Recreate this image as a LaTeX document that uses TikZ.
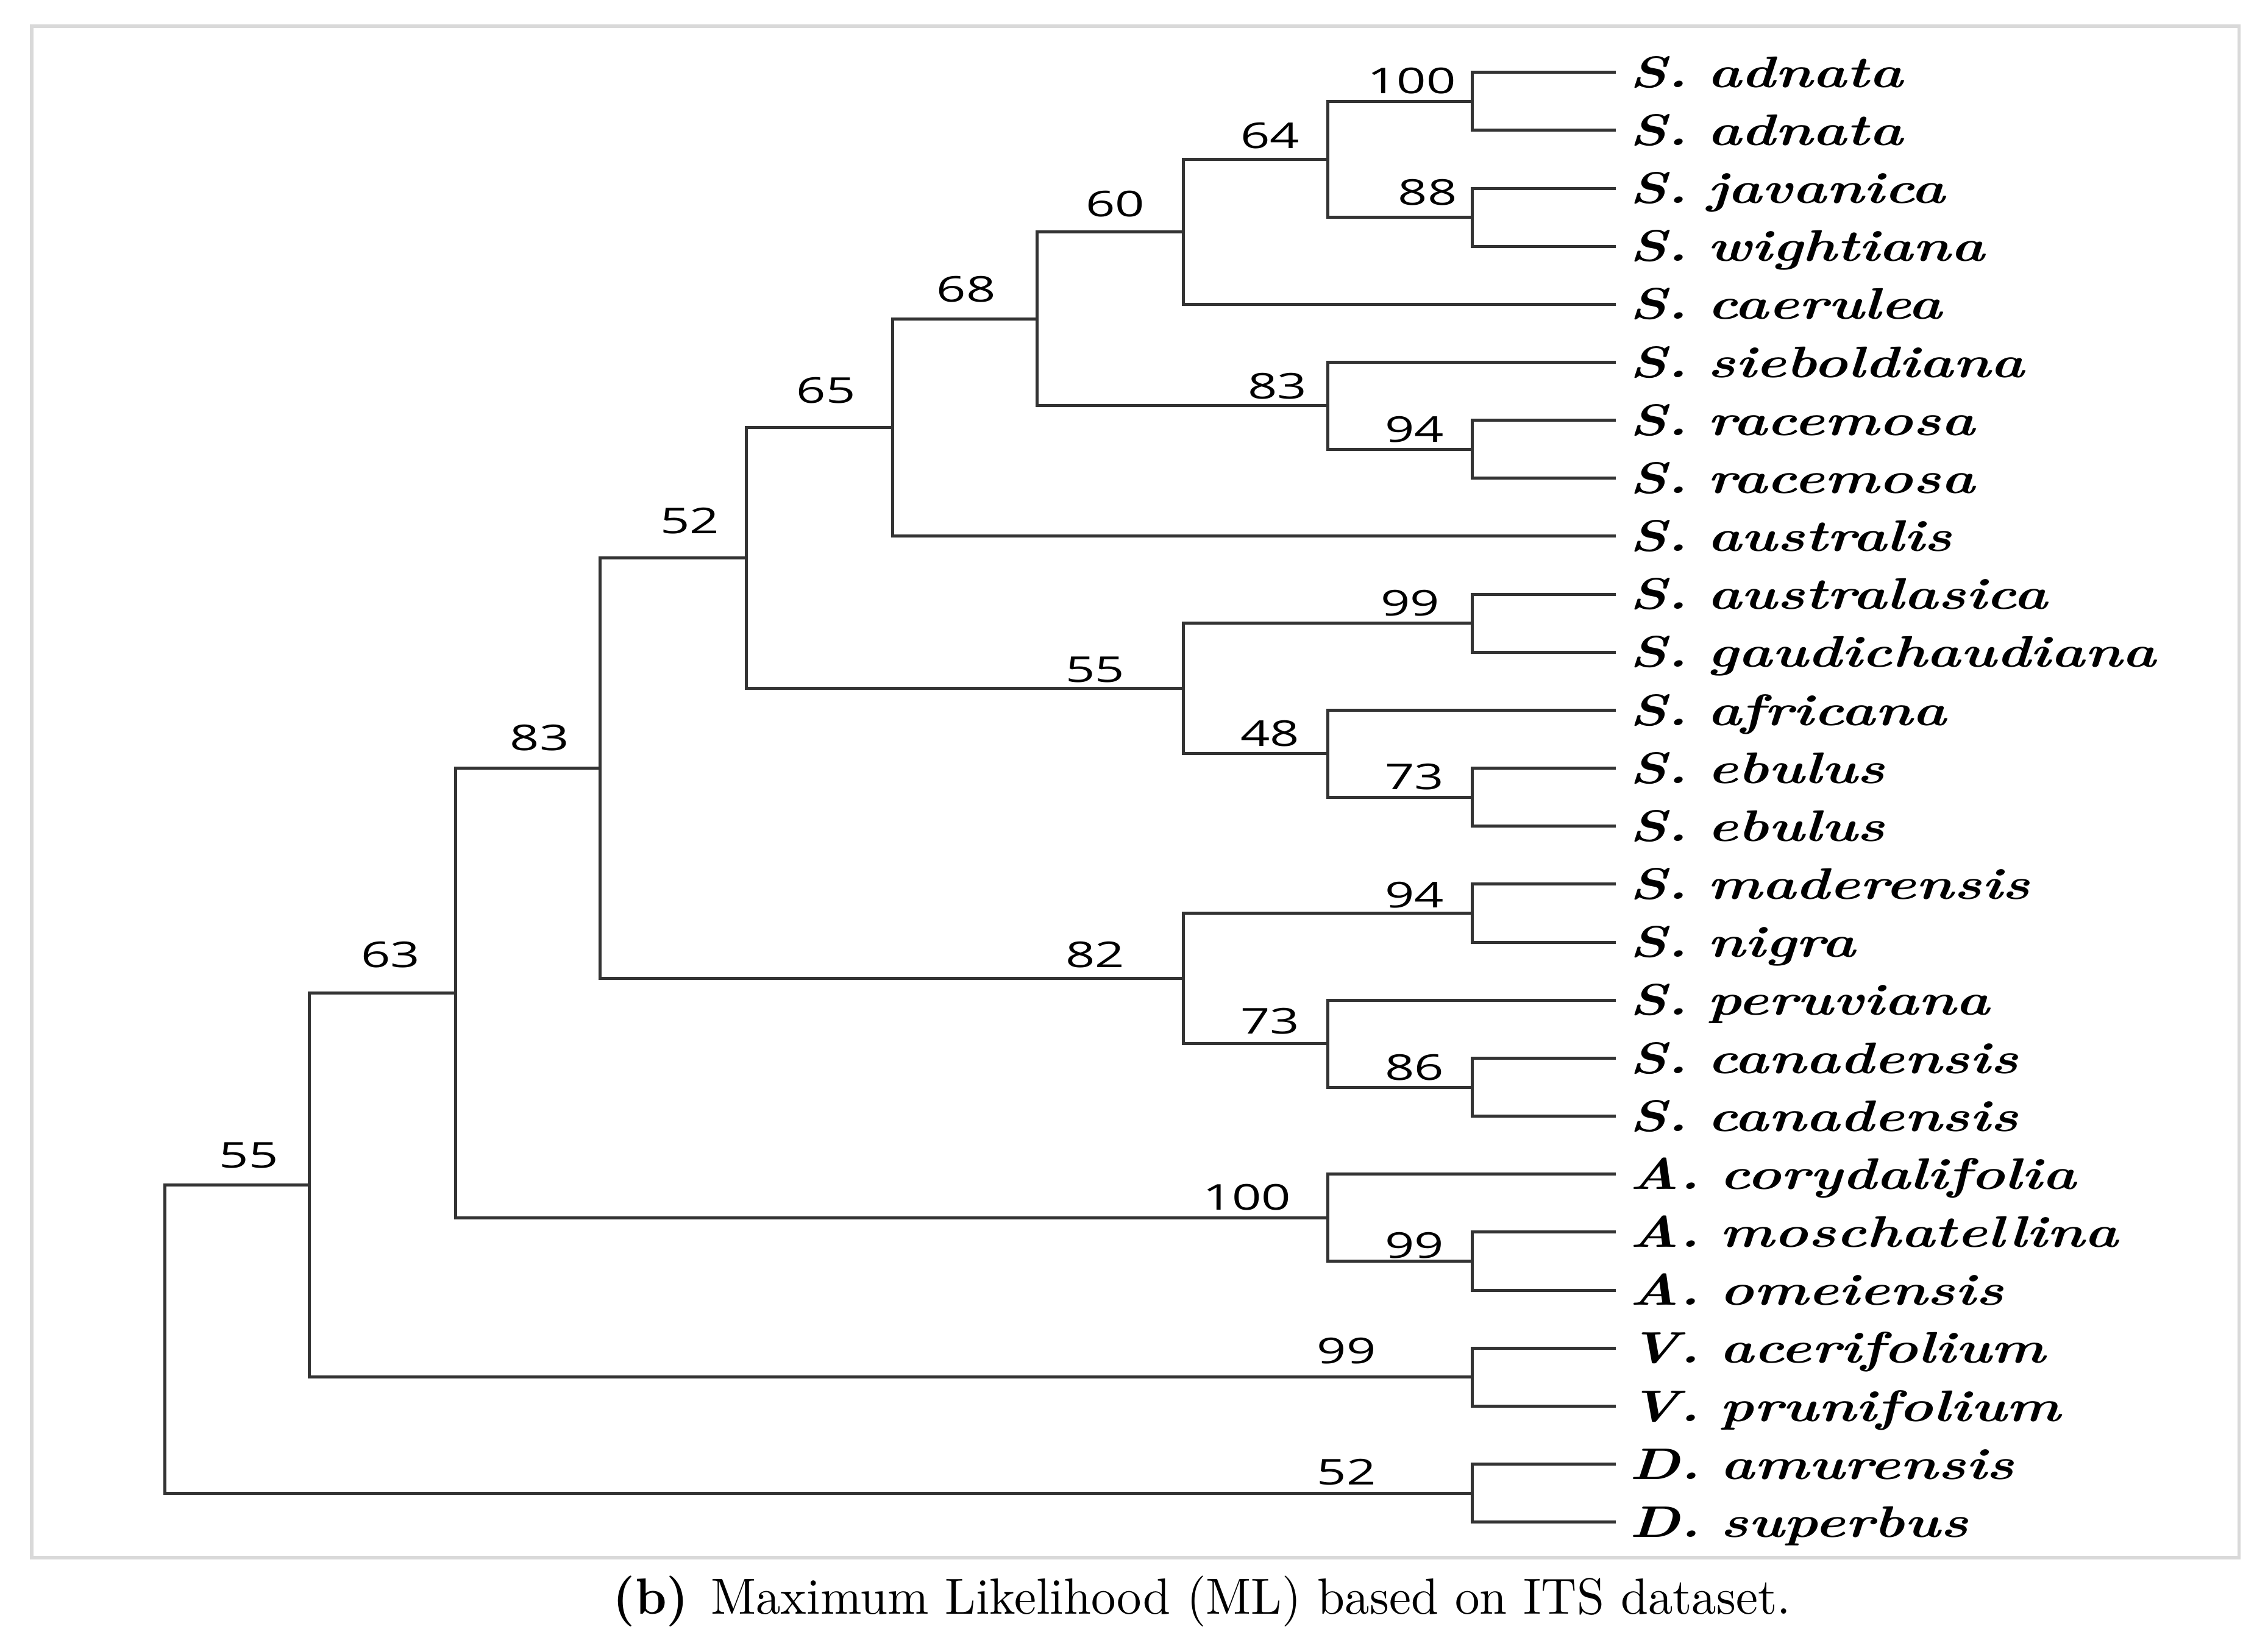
\documentclass[tikz,border=0pt]{standalone}
\usepackage{fontspec}
\usepackage{graphicx}
\newfontfamily\bootfont{Open Sans}
\newcommand{\taxon}[2]{\scalebox{1.3}[1]{#1\hspace{3pt}#2}}
\newcommand{\bval}[1]{\scalebox{1.45}[1]{#1}}

\begin{document}
\begin{tikzpicture}[x=0.1mm,y=-0.1mm,
    branch/.style={draw=black!80,line width=0.6pt},
    leaf/.style={anchor=west,inner xsep=0.9mm,inner ysep=0pt,text height=5.9pt,text depth=0pt,
        font=\fontsize{8.7}{10}\selectfont\bfseries\itshape},
    boot/.style={inner sep=0pt,font=\bootfont\fontsize{7}{8}\selectfont}]
    \useasboundingbox (0,0) rectangle (1568,1138);
    \draw[black!15,line width=0.7pt] (22,18) rectangle (1548,1077);

    % taxa
    \node[leaf] (l1) at (1117,50) {\taxon{S.}{adnata}};
    \node[leaf] (l2) at (1117,90.1) {\taxon{S.}{adnata}};
    \node[leaf] (l3) at (1117,130.2) {\taxon{S.}{javanica}};
    \node[leaf] (l4) at (1117,170.3) {\taxon{S.}{wightiana}};
    \node[leaf] (l5) at (1117,210.4) {\taxon{S.}{caerulea}};
    \node[leaf] (l6) at (1117,250.5) {\taxon{S.}{sieboldiana}};
    \node[leaf] (l7) at (1117,290.6) {\taxon{S.}{racemosa}};
    \node[leaf] (l8) at (1117,330.7) {\taxon{S.}{racemosa}};
    \node[leaf] (l9) at (1117,370.8) {\taxon{S.}{australis}};
    \node[leaf] (l10) at (1117,410.9) {\taxon{S.}{australasica}};
    \node[leaf] (l11) at (1117,451) {\taxon{S.}{gaudichaudiana}};
    \node[leaf] (l12) at (1117,491.1) {\taxon{S.}{africana}};
    \node[leaf] (l13) at (1117,531.2) {\taxon{S.}{ebulus}};
    \node[leaf] (l14) at (1117,571.3) {\taxon{S.}{ebulus}};
    \node[leaf] (l15) at (1117,611.4) {\taxon{S.}{maderensis}};
    \node[leaf] (l16) at (1117,651.5) {\taxon{S.}{nigra}};
    \node[leaf] (l17) at (1117,691.6) {\taxon{S.}{peruviana}};
    \node[leaf] (l18) at (1117,731.7) {\taxon{S.}{canadensis}};
    \node[leaf] (l19) at (1117,771.8) {\taxon{S.}{canadensis}};
    \node[leaf] (l20) at (1117,811.9) {\taxon{A.}{corydalifolia}};
    \node[leaf] (l21) at (1117,852) {\taxon{A.}{moschatellina}};
    \node[leaf] (l22) at (1117,892.1) {\taxon{A.}{omeiensis}};
    \node[leaf] (l23) at (1117,932.2) {\taxon{V.}{acerifolium}};
    \node[leaf] (l24) at (1117,972.3) {\taxon{V.}{prunifolium}};
    \node[leaf] (l25) at (1117,1012.4) {\taxon{D.}{amurensis}};
    \node[leaf] (l26) at (1117,1052.5) {\taxon{D.}{superbus}};

    % internal nodes
    \coordinate (i1) at (1018,70.05);
    \coordinate (i2) at (1018,150.25);
    \coordinate (i3) at (918,110.15);
    \coordinate (i4) at (818,160.3);
    \coordinate (i5) at (1018,310.65);
    \coordinate (i6) at (918,280.6);
    \coordinate (i7) at (717,220.45);
    \coordinate (i8) at (617,295.6);
    \coordinate (i9) at (1018,430.95);
    \coordinate (i10) at (1018,551.25);
    \coordinate (i11) at (918,521.2);
    \coordinate (i12) at (818,476.1);
    \coordinate (i13) at (516,385.85);
    \coordinate (i14) at (1018,631.45);
    \coordinate (i15) at (1018,751.75);
    \coordinate (i16) at (918,721.7);
    \coordinate (i17) at (818,676.6);
    \coordinate (i18) at (415,531.2);
    \coordinate (i19) at (1018,872.05);
    \coordinate (i20) at (918,841.95);
    \coordinate (i21) at (315,686.6);
    \coordinate (i22) at (1018,952.25);
    \coordinate (i23) at (214,819.4);
    \coordinate (i24) at (1018,1032.45);
    \coordinate (i25) at (114,925.9);

    % branches
    \draw[branch] (l1) -| (i1) |- (l2);
    \draw[branch] (l3) -| (i2) |- (l4);
    \draw[branch] (i1) -| (i3) |- (i2);
    \draw[branch] (i3) -| (i4) |- (l5);
    \draw[branch] (l7) -| (i5) |- (l8);
    \draw[branch] (l6) -| (i6) |- (i5);
    \draw[branch] (i4) -| (i7) |- (i6);
    \draw[branch] (i7) -| (i8) |- (l9);
    \draw[branch] (l10) -| (i9) |- (l11);
    \draw[branch] (l13) -| (i10) |- (l14);
    \draw[branch] (l12) -| (i11) |- (i10);
    \draw[branch] (i9) -| (i12) |- (i11);
    \draw[branch] (i8) -| (i13) |- (i12);
    \draw[branch] (l15) -| (i14) |- (l16);
    \draw[branch] (l18) -| (i15) |- (l19);
    \draw[branch] (l17) -| (i16) |- (i15);
    \draw[branch] (i14) -| (i17) |- (i16);
    \draw[branch] (i13) -| (i18) |- (i17);
    \draw[branch] (l21) -| (i19) |- (l22);
    \draw[branch] (l20) -| (i20) |- (i19);
    \draw[branch] (i18) -| (i21) |- (i20);
    \draw[branch] (l23) -| (i22) |- (l24);
    \draw[branch] (i21) -| (i23) |- (i22);
    \draw[branch] (l25) -| (i24) |- (l26);
    \draw[branch] (i23) -| (i25) |- (i24);

    % bootstrap values
    \node[boot] (b1) at (976,56) {\bval{100}};
    \node[boot] (b2) at (987,133) {\bval{88}};
    \node[boot] (b3) at (878,94) {\bval{64}};
    \node[boot] (b4) at (771,141) {\bval{60}};
    \node[boot] (b5) at (978,297) {\bval{94}};
    \node[boot] (b6) at (883,267) {\bval{83}};
    \node[boot] (b7) at (668,200) {\bval{68}};
    \node[boot] (b8) at (571,270) {\bval{65}};
    \node[boot] (b9) at (975,417) {\bval{99}};
    \node[boot] (b10) at (978,537) {\bval{73}};
    \node[boot] (b11) at (878,507) {\bval{48}};
    \node[boot] (b12) at (757,463) {\bval{55}};
    \node[boot] (b13) at (477,360) {\bval{52}};
    \node[boot] (b14) at (978,619) {\bval{94}};
    \node[boot] (b15) at (978,738) {\bval{86}};
    \node[boot] (b16) at (878,706) {\bval{73}};
    \node[boot] (b17) at (757,660) {\bval{82}};
    \node[boot] (b18) at (373,510) {\bval{83}};
    \node[boot] (b19) at (978,861) {\bval{99}};
    \node[boot] (b20) at (862,828) {\bval{100}};
    \node[boot] (b21) at (270,660) {\bval{63}};
    \node[boot] (b22) at (931,934) {\bval{99}};
    \node[boot] (b23) at (172,799) {\bval{55}};
    \node[boot] (b24) at (931,1018) {\bval{52}};

    \node[anchor=base,inner sep=0pt,font=\fontsize{10}{12}\selectfont] (cap) at (831,1116)
        {\scalebox{0.97}[1]{\textbf{(b)}\hspace{0.45em}Maximum Likelihood (ML) based on ITS dataset.}};
\end{tikzpicture}
\end{document}
